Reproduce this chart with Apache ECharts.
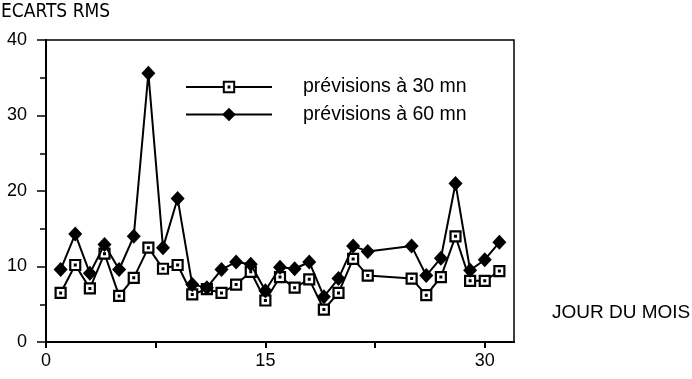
<!DOCTYPE html>
<html>
<head>
<meta charset="utf-8">
<script src="https://cdn.jsdelivr.net/npm/echarts@6/dist/echarts.min.js"></script>
<style>html,body{margin:0;padding:0;background:#fff}#c{width:692px;height:379px}</style>
</head>
<body>
<div id="c"></div>
<script>
const days = [1,2,3,4,5,6,7,8,9,10,11,12,13,14,15,16,17,18,19,20,21,22,25,26,27,28,29,30,31];
const vals30 = [6.5,10.2,7.1,11.7,6.1,8.5,12.5,9.7,10.2,6.3,7.0,6.5,7.6,9.3,5.5,8.6,7.2,8.3,4.3,6.5,11.0,8.8,8.4,6.2,8.6,14.0,8.1,8.1,9.4];
const vals60 = [9.6,14.3,9.1,12.9,9.6,14.0,35.6,12.5,19.0,7.6,7.2,9.6,10.6,10.3,6.8,9.9,9.7,10.6,6.0,8.4,12.7,12.0,12.7,8.8,11.1,21.0,9.5,10.9,13.2];
const xTicks = [0,7.5,15,22.5,30];
const xLabels = [0,15,30];
const seriesNames = ['prévisions à 30 mn','prévisions à 60 mn'];
const yTitle = 'ECARTS RMS';
const xTitle = 'JOUR DU MOIS';

const FONT = "'Liberation Sans', Arial, Helvetica, sans-serif";
const NARROW = "'Liberation Sans Narrow', 'DejaVu Sans Condensed', 'Liberation Sans', sans-serif";
const squareSym = 'path://M0,0H10V10H0Z M4.6,4.6H5.4V5.4H4.6Z';

const chart = echarts.init(document.getElementById('c'), null, {renderer:'canvas'});
chart.setOption({
  animation:false,
  backgroundColor:'#fff',
  title:[
    {text:yTitle,left:1,top:3,padding:0,textStyle:{fontFamily:NARROW,fontSize:19,fontWeight:'normal',color:'#000'}},
    {text:xTitle,left:552,top:303,padding:0,textStyle:{fontFamily:FONT,fontSize:19,fontWeight:'normal',color:'#000'}}
  ],
  grid:{left:46,right:178,top:40,bottom:37,show:true,borderColor:'#000',borderWidth:1.5,backgroundColor:'transparent'},
  legend:[
    {data:[seriesNames[0]],orient:'vertical',left:185,top:77,padding:0,itemWidth:86,itemHeight:13,selectedMode:false,
     textStyle:{fontFamily:FONT,fontSize:19.5,color:'#000',lineHeight:20,padding:[0,0,0,26]}},
    {data:[seriesNames[1]],orient:'vertical',left:185,top:104.5,padding:0,itemWidth:86,itemHeight:17,selectedMode:false,
     textStyle:{fontFamily:FONT,fontSize:19.5,color:'#000',lineHeight:20,padding:[0,0,0,26]}}
  ],
  xAxis:{type:'value',min:0,max:32,interval:7.5,
    axisLine:{show:true,onZero:false,lineStyle:{color:'#000',width:2}},
    axisTick:{show:true,inside:false,length:6,customValues:xTicks,lineStyle:{color:'#000',width:2}},
    axisLabel:{customValues:xLabels,margin:10,fontFamily:FONT,fontSize:18,color:'#000'},
    splitLine:{show:false}},
  yAxis:{type:'value',min:0,max:40,interval:10,
    axisLine:{show:true,lineStyle:{color:'#000',width:2}},
    axisTick:{show:true,inside:false,length:9,lineStyle:{color:'#000',width:1.5}},
    minorTick:{show:true,splitNumber:2,length:6,lineStyle:{color:'#000',width:1.5}},
    axisLabel:{margin:19,fontFamily:FONT,fontSize:18,color:'#000'},
    splitLine:{show:false}},
  series:[
    {name:seriesNames[0],type:'line',data:days.map((d,i)=>[d,vals30[i]]),
     symbol:squareSym,symbolSize:10,showAllSymbol:true,
     lineStyle:{color:'#000',width:2},
     itemStyle:{color:'#fff',borderColor:'#000',borderWidth:2.2},z:2},
    {name:seriesNames[1],type:'line',data:days.map((d,i)=>[d,vals60[i]]),
     symbol:'diamond',symbolSize:[14,15],showAllSymbol:true,
     lineStyle:{color:'#000',width:2},
     itemStyle:{color:'#000',borderColor:'#000',borderWidth:0},z:3}
  ]
});
</script>
</body>
</html>
